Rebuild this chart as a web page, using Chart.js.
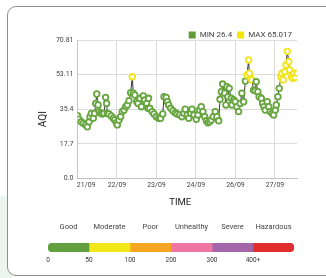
<!DOCTYPE html>
<html>
<head>
<meta charset="utf-8">
<script src="https://cdn.jsdelivr.net/npm/chart.js@4.4.1/dist/chart.umd.min.js"></script>
<style>
  html, body { margin: 0; padding: 0; width: 326px; height: 278px; overflow: hidden; background: #fff; font-family: Roboto, sans-serif; }
  #mint { position: absolute; left: 0; top: 196px; width: 12px; height: 82px; background: #ebf5ef; }
  #card { position: absolute; left: 7px; top: 6px; width: 340px; height: 270px; box-sizing: border-box; border: 1px solid #8f8f8f; border-radius: 9px; background: #fff; }
  canvas { position: absolute; left: 0; }
  #aqiChart { top: 0; }
  #bandChart { top: 215px; }
</style>
</head>
<body>
<div id="mint"></div>
<div id="card"></div>
<canvas id="aqiChart" width="326" height="215"></canvas>
<canvas id="bandChart" width="326" height="60"></canvas>
<script>
// hours since 21/09 00:00 and AQI readings
const hours = [0, 0.9, 2.3, 3.5, 5.0, 6.0, 7.0, 7.6, 8.4, 9.6, 10.4, 11.1, 11.7, 12.5, 13.1, 14.1, 15.1, 16.1, 17.1, 17.7,
  18.1, 19.1, 20.5, 21.7, 22.6, 23.6, 24.2, 25.2, 26.2, 27.2, 28.3, 29.3, 30.3, 31.3, 32.3, 33.3, 33.9, 34.8, 36.0, 36.8,
  38.0, 38.8, 40.0, 40.8, 42.0, 42.8, 43.2, 43.9, 45.3, 46.5, 47.9, 49.3, 50.5, 51.8, 52.6, 53.9, 54.6, 55.4, 56.6, 58.0,
  59.4, 60.6, 62.1, 63.5, 64.7, 65.5, 66.7, 67.6, 68.8, 69.6, 70.8, 72.2, 73.2, 74.2, 75.2, 76.2, 77.3, 78.3, 79.3, 80.3,
  81.3, 82.5, 83.7, 84.7, 85.8, 86.6, 87.4, 88.2, 89.4, 90.2, 90.8, 91.4, 92.2, 93.4, 93.9, 94.9, 95.9, 96.9, 97.9, 98.9,
  99.9, 101.0, 102.0, 103.0, 104.0, 104.4, 105.2, 106.0, 107.0, 108.0, 108.6, 109.6, 110.4, 111.7, 112.5, 113.3, 114.1, 115.3, 116.2, 117.1,
  118.2, 119.2, 120.2, 120.8, 121.8, 122.6, 123.6, 124.2, 125.0, 125.9, 126.7, 127.5, 128.4, 129.0, 130.0, 130.8, 131.6, 132.4, 133.4];
const aqi = [32.1, 30.3, 29.0, 28.2, 27.4, 26.4, 29.0, 31.6, 33.3, 30.8, 33.3, 38.4, 43.2, 37.6, 34.2, 33.3, 33.0, 33.3, 41.5, 38.4,
  33.3, 33.0, 32.0, 30.8, 29.9, 28.5, 27.4, 29.9, 31.6, 34.2, 35.0, 36.7, 37.6, 39.8, 43.9, 52.0, 43.6, 42.7, 39.3, 38.4,
  41.0, 36.7, 42.2, 40.1, 38.4, 35.9, 41.0, 35.9, 34.2, 33.0, 31.6, 30.8, 30.8, 33.0, 41.8, 41.5, 39.3, 37.6, 35.9, 34.7,
  33.6, 33.0, 32.5, 31.6, 33.3, 35.4, 32.5, 30.8, 33.3, 35.4, 32.5, 30.3, 32.5, 35.0, 36.7, 34.2, 31.6, 29.5, 28.5, 29.0,
  29.9, 31.6, 34.2, 31.6, 29.5, 40.5, 44.4, 48.3, 43.6, 37.6, 46.9, 41.8, 46.1, 41.0, 37.6, 40.1, 39.3, 36.7, 34.2, 38.4,
  43.6, 39.3, 49.8, 52.9, 60.6, 53.8, 51.2, 50.4, 45.2, 44.9, 49.5, 44.4, 41.8, 41.0, 38.4, 36.7, 35.0, 39.3, 36.7, 34.2,
  33.3, 32.5, 35.0, 37.6, 41.8, 46.1, 52.0, 53.8, 50.4, 54.6, 58.0, 65.017, 59.7, 55.5, 52.0, 51.2, 53.8, 51.7, 53.8];

const dayTicks = [0, 24, 48, 72, 96, 120];
const dayLabels = ['21/09', '22/09', '23/09', '24/09', '26/09', '27/09'];
const yTicks = [0, 17.7, 35.4, 53.11, 70.81];
const yLabels = ['0.0', '17.7', '35.4', '53.11', '70.81'];
const legendNames = ['MIN 26.4', 'MAX 65.017'];

const bandNames = ['Good', 'Moderate', 'Poor', 'Unhealthy', 'Severe', 'Hazardous'];
const bandTicks = ['0', '50', '100', '200', '300', '400+'];

const GREEN = '#67a53f';
const YELLOW = '#f2e31a';
const legendColors = ['#5f9c39', '#f4e500'];
const bandColors = ['#62a03f', '#f2e817', '#f7a624', '#ee76a1', '#a366ab', '#e22f2d'];

// legend sits closer to the plot than Chart.js allows by default
const tightLegend = {
  id: 'tightLegend',
  beforeInit(chart) {
    const fit = chart.legend.fit;
    chart.legend.fit = function () { fit.call(this); this.height -= 9; };
  }
};

new Chart(document.getElementById('aqiChart'), {
  type: 'line',
  data: {
    datasets: [{
      data: hours.map((h, i) => ({ x: h, y: aqi[i] })),
      borderColor: '#222',
      borderWidth: 0.9,
      tension: 0,
      pointRadius: 2.8,
      pointBorderWidth: 1.8,
      pointBackgroundColor: '#fff',
      pointBorderColor: ctx => (ctx.raw && ctx.raw.y > 50) ? YELLOW : GREEN
    }]
  },
  options: {
    responsive: false,
    animation: false,
    events: [],
    layout: { padding: { left: 36, right: 29, top: 26, bottom: 0 } },
    plugins: {
      tooltip: { enabled: false },
      legend: {
        position: 'top',
        align: 'end',
        labels: {
          boxWidth: 7,
          boxHeight: 7,
          padding: 5,
          color: '#444',
          font: { family: 'Roboto', size: 8 },
          generateLabels: () => legendNames.map((t, i) => ({
            text: t, fillStyle: legendColors[i], strokeStyle: legendColors[i],
            lineWidth: 0, hidden: false, datasetIndex: 0, fontColor: '#444'
          }))
        }
      }
    },
    scales: {
      x: {
        type: 'linear',
        min: 0,
        max: 133.4,
        afterBuildTicks: s => { s.ticks = dayTicks.map(v => ({ value: v })); },
        afterFit: s => { s.height = 36.5; },
        ticks: {
          autoSkip: false, maxRotation: 0, padding: 3, color: '#444',
          font: { family: 'Roboto', size: 7 },
          callback: (v, i) => i === 0 ? '          ' + dayLabels[0] : dayLabels[i]
        },
        grid: { color: '#dcdcdc', drawTicks: false },
        border: { color: '#c4c4c4' },
        title: { display: true, text: 'TIME      ', color: '#222', font: { family: 'Roboto', size: 9.5 }, padding: { top: 2, bottom: 7 } }
      },
      y: {
        min: 0,
        max: 70.81,
        afterBuildTicks: s => { s.ticks = yTicks.map(v => ({ value: v })); },
        afterFit: s => { s.width = 41.5; },
        ticks: {
          padding: 4, color: '#444',
          font: { family: 'Roboto', size: 7 },
          callback: (v, i) => yLabels[i]
        },
        grid: { color: '#dcdcdc', drawTicks: false },
        border: { color: '#c4c4c4' },
        title: { display: true, text: 'AQI        ', color: '#222', font: { family: 'Roboto', size: 10 }, padding: { top: 1, bottom: 0 } }
      }
    }
  },
  plugins: [tightLegend]
});

new Chart(document.getElementById('bandChart'), {
  type: 'bar',
  data: {
    labels: [''],
    datasets: bandNames.map((n, i) => ({
      label: n,
      data: [1],
      backgroundColor: bandColors[i],
      borderWidth: 0,
      borderSkipped: false,
      borderRadius: i === 0 ? { topLeft: 5, bottomLeft: 5, topRight: 0, bottomRight: 0 }
        : i === bandNames.length - 1 ? { topLeft: 0, bottomLeft: 0, topRight: 5, bottomRight: 5 } : 0,
      barPercentage: 1,
      categoryPercentage: 1
    }))
  },
  options: {
    indexAxis: 'y',
    responsive: false,
    animation: false,
    events: [],
    layout: { padding: { left: 48, right: 32, top: 0, bottom: 0 } },
    plugins: { legend: { display: false }, tooltip: { enabled: false } },
    scales: {
      y: { stacked: true, display: false },
      x: {
        stacked: true, min: 0, max: 6, position: 'bottom',
        afterBuildTicks: s => { s.ticks = bandTicks.map((t, i) => ({ value: i })); },
        afterFit: s => { s.height = 23; },
        ticks: { autoSkip: false, maxRotation: 0, padding: 4, color: '#333', font: { family: 'Roboto', size: 6.5 }, callback: (v, i) => bandTicks[i] },
        grid: { display: false, drawTicks: false },
        border: { display: false }
      },
      x2: {
        type: 'linear', axis: 'x', position: 'top', min: 0, max: 6,
        afterBuildTicks: s => { s.ticks = bandNames.map((t, i) => ({ value: i + 0.5 })); },
        afterFit: s => { s.height = 28; },
        ticks: { autoSkip: false, maxRotation: 0, padding: 11, color: '#444', font: { family: 'Roboto', size: 7.5 }, callback: (v, i) => bandNames[i] },
        grid: { display: false, drawTicks: false },
        border: { display: false }
      }
    }
  }
});
</script>
</body>
</html>
